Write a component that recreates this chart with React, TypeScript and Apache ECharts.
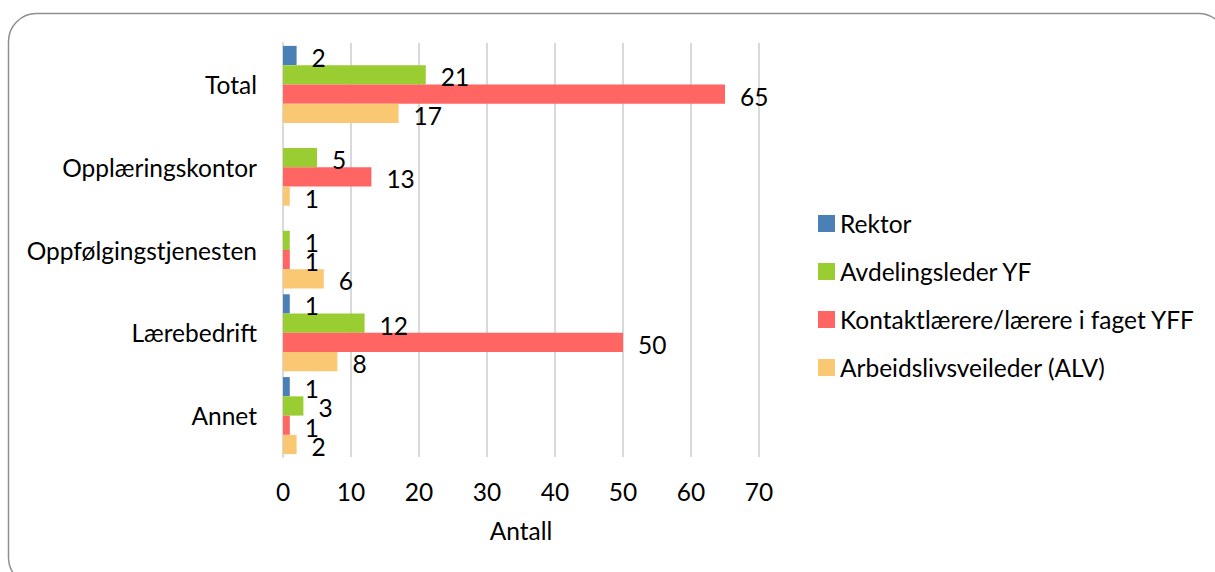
import React, { useEffect, useRef } from "react";
import * as echarts from "echarts";

const categories = ["Total", "Opplæringskontor", "Oppfølgingstjenesten", "Lærebedrift", "Annet"];
const seriesNames = ["Rektor", "Avdelingsleder YF", "Kontaktlærere/lærere i faget YFF", "Arbeidslivsveileder (ALV)"];
const rektor = [2, null, null, 1, 1];
const avdelingsleder = [21, 5, 1, 12, 3];
const kontaktlaerere = [65, 13, 1, 50, 1];
const alv = [17, 1, 6, 8, 2];
const colors = ["#4a80b5", "#9acd32", "#ff6563", "#fac773"];
const xTicks = [0, 10, 20, 30, 40, 50, 60, 70];

const FONT = "Lato";
const FS = 24.5;

export default function App() {
  const ref = useRef<HTMLDivElement>(null);
  useEffect(() => {
    if (!ref.current) return;
    const chart = echarts.init(ref.current, undefined, { renderer: "svg" });
    const values = [rektor, avdelingsleder, kontaktlaerere, alv];
    chart.setOption({
      animation: false,
      textStyle: { fontFamily: FONT },
      graphic: [
        {
          type: "rect",
          shape: { x: 8.5, y: 13.5, width: 1218, height: 572, r: 28 },
          style: { fill: "none", stroke: "#8f8f8f", lineWidth: 1.5 },
          silent: true,
          z: -10,
        },
      ],
      legend: {
        orient: "vertical",
        left: 813,
        top: 206,
        itemWidth: 17,
        itemHeight: 17,
        itemGap: 23,
        icon: "rect",
        textStyle: { fontFamily: FONT, fontSize: FS, color: "#000" },
        data: seriesNames,
      },
      grid: { left: 283, right: 456, top: 43, bottom: 115, containLabel: false },
      xAxis: {
        type: "value",
        min: xTicks[0],
        max: xTicks[xTicks.length - 1],
        interval: 10,
        name: "Antall",
        nameLocation: "middle",
        nameGap: 61,
        nameTextStyle: { fontFamily: FONT, fontSize: FS, color: "#000" },
        axisLine: { show: false },
        axisTick: { show: false },
        axisLabel: { fontFamily: FONT, fontSize: FS, color: "#000", margin: 22 },
        splitLine: { show: true, lineStyle: { color: "#d9d9d9", width: 2 } },
      },
      yAxis: {
        type: "category",
        data: categories,
        inverse: true,
        axisLine: { show: true, lineStyle: { color: "#d9d9d9", width: 2 } },
        axisTick: { show: false },
        axisLabel: { fontFamily: FONT, fontSize: FS, color: "#000", margin: 26, padding: [0, 0, 3, 0] },
      },
      series: seriesNames.map((name, i) => ({
        name,
        type: "bar",
        data: values[i],
        barGap: "0%",
        barCategoryGap: "7%",
        itemStyle: { color: colors[i] },
        label: {
          show: true,
          position: "right",
          distance: 15,
          fontFamily: FONT,
          fontSize: FS,
          color: "#000",
          offset: [0, 2],
        },
      })),
    });
    return () => chart.dispose();
  }, []);
  return <div ref={ref} style={{ width: 1215, height: 572, position: "absolute", left: 0, top: 0 }} />;
}
